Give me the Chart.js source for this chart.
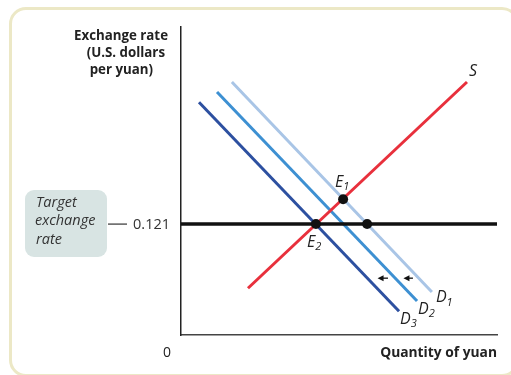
<!DOCTYPE html>
<html>
<head>
<meta charset="utf-8">
<script src="https://cdn.jsdelivr.net/npm/chart.js@4"></script>
<style>
  body { margin: 0; background: #fff; overflow: hidden; }
  .wrap { position: relative; width: 511px; height: 375px; overflow: hidden; }
  .frame { position: absolute; left: 9px; top: 7px; width: 510px; height: 370px; border: 3px solid #ece8c6; border-radius: 17px; box-sizing: border-box; }
  canvas { position: absolute; left: 0; top: 0; }
</style>
</head>
<body>
<div class="wrap">
  <div class="frame"></div>
  <canvas id="fx" width="511" height="375"></canvas>
</div>
<script>
// quantity of yuan (arbitrary units 0-100), exchange rate in US$ per yuan
const supplyQty = [21.2, 90.5];
const supplyRate = [0.051, 0.276];
const d1Qty = [16.1, 79.4];
const d1Rate = [0.276, 0.047];
const d2Qty = [11.4, 74.7];
const d2Rate = [0.265, 0.037];
const d3Qty = [5.7, 69.0];
const d3Rate = [0.254, 0.026];
const targetRate = 0.121;
const targetQty = [0, 100];
const dotQty = [51.3, 42.7, 58.9];
const dotRate = [0.148, 0.121, 0.121];
const arrowFrom = [73.4, 65.5];
const arrowTo = [70.4, 62.2];
const arrowRate = 0.062;

const pts = (xs, ys) => xs.map((x, i) => ({ x: x, y: ys[i] }));
const font = "'Open Sans', 'DejaVu Sans', sans-serif";

const lineSet = (data, color, width, order) => ({
    data: data,
    showLine: true,
    borderColor: color,
    borderWidth: width,
    pointRadius: 0,
    borderCapStyle: 'butt',
    order: order
});

const labels = {
    id: 'labels',
    afterDatasetsDraw(chart) {
        const ctx = chart.ctx;
        const xs = chart.scales.x, ys = chart.scales.y;
        const px = v => xs.getPixelForValue(v);
        const py = v => ys.getPixelForValue(v);
        ctx.save();

        // arrows showing the shift of demand
        ctx.strokeStyle = '#111';
        ctx.fillStyle = '#111';
        ctx.lineWidth = 1.3;
        arrowFrom.forEach((q, i) => {
            const x0 = px(q), x1 = px(arrowTo[i]), y = py(arrowRate);
            ctx.beginPath();
            ctx.moveTo(x0, y);
            ctx.lineTo(x1 + 4, y);
            ctx.stroke();
            ctx.beginPath();
            ctx.moveTo(x1, y);
            ctx.lineTo(x1 + 6, y - 3);
            ctx.lineTo(x1 + 6, y + 3);
            ctx.closePath();
            ctx.fill();
        });

        // y axis title
        ctx.fillStyle = '#222';
        ctx.font = 'bold 13.3px ' + font;
        ctx.textAlign = 'right';
        ctx.textBaseline = 'middle';
        ctx.fillText('Exchange rate', 168, 36);
        ctx.fillText('(U.S. dollars', 165, 53);
        ctx.fillText('per yuan)', 153, 70);

        // x axis title and origin
        ctx.font = 'bold 13.8px ' + font;
        ctx.fillText('Quantity of yuan', 497, 353);
        ctx.font = '14px ' + font;
        ctx.fillText('0', 171, 353);

        // target exchange rate box and tick
        const ty = py(targetRate);
        ctx.fillStyle = '#d8e4e3';
        ctx.beginPath();
        ctx.roundRect(25, 190, 82, 67, 9);
        ctx.fill();
        ctx.fillStyle = '#333';
        ctx.font = 'italic 14.5px ' + font;
        ctx.textAlign = 'left';
        ctx.fillText('Target', 36, 203);
        ctx.fillText('exchange', 35, 221);
        ctx.fillText('rate', 36, 240);
        ctx.strokeStyle = '#333';
        ctx.lineWidth = 1.2;
        ctx.beginPath();
        ctx.moveTo(108, ty);
        ctx.lineTo(127, ty);
        ctx.stroke();
        ctx.font = '14.5px ' + font;
        ctx.textAlign = 'right';
        ctx.fillText('0.121', 170, ty + 1);

        // curve and point labels
        const sub = (main, s, x, y) => {
            ctx.textAlign = 'left';
            ctx.font = 'italic 16px ' + font;
            ctx.fillText(main, x, y);
            const w = ctx.measureText(main).width;
            if (s) {
                ctx.font = 'italic 11px ' + font;
                ctx.fillText(s, x + w, y + 5);
            }
        };
        ctx.fillStyle = '#222';
        sub('S', '', px(supplyQty[1]) + 2, py(supplyRate[1]) - 11);
        sub('D', '1', px(d1Qty[1]) + 4, py(d1Rate[1]) + 6);
        sub('D', '2', px(d2Qty[1]) + 1, py(d2Rate[1]) + 8);
        sub('D', '3', px(d3Qty[1]) + 1, py(d3Rate[1]) + 8);
        sub('E', '1', px(dotQty[0]) - 8, py(dotRate[0]) - 17);
        sub('E', '2', px(dotQty[1]) - 9, py(dotRate[1]) + 18);
        ctx.restore();
    }
};

new Chart(document.getElementById('fx'), {
    type: 'scatter',
    data: {
        datasets: [
            {
                data: pts(dotQty, dotRate),
                pointRadius: 5,
                pointBackgroundColor: '#111',
                pointBorderWidth: 0,
                order: 0
            },
            lineSet(pts(targetQty, [targetRate, targetRate]), '#111', 3.5, 1),
            lineSet(pts(supplyQty, supplyRate), '#e8303c', 3, 2),
            lineSet(pts(d1Qty, d1Rate), '#a9c5e6', 3, 3),
            lineSet(pts(d2Qty, d2Rate), '#3d90d2', 3, 3),
            lineSet(pts(d3Qty, d3Rate), '#2d50a0', 3, 3)
        ]
    },
    options: {
        responsive: false,
        animation: false,
        layout: { padding: { left: 181, top: 27, right: 14, bottom: 40 } },
        plugins: { legend: { display: false }, tooltip: { enabled: false } },
        scales: {
            x: {
                min: 0, max: 100,
                grid: { display: false, drawTicks: false },
                ticks: { display: false },
                border: { color: '#444', width: 1.5 }
            },
            y: {
                min: 0, max: 0.336,
                grid: { display: false, drawTicks: false },
                ticks: { display: false },
                border: { color: '#222', width: 1.5 }
            }
        }
    },
    plugins: [labels]
});
</script>
</body>
</html>
